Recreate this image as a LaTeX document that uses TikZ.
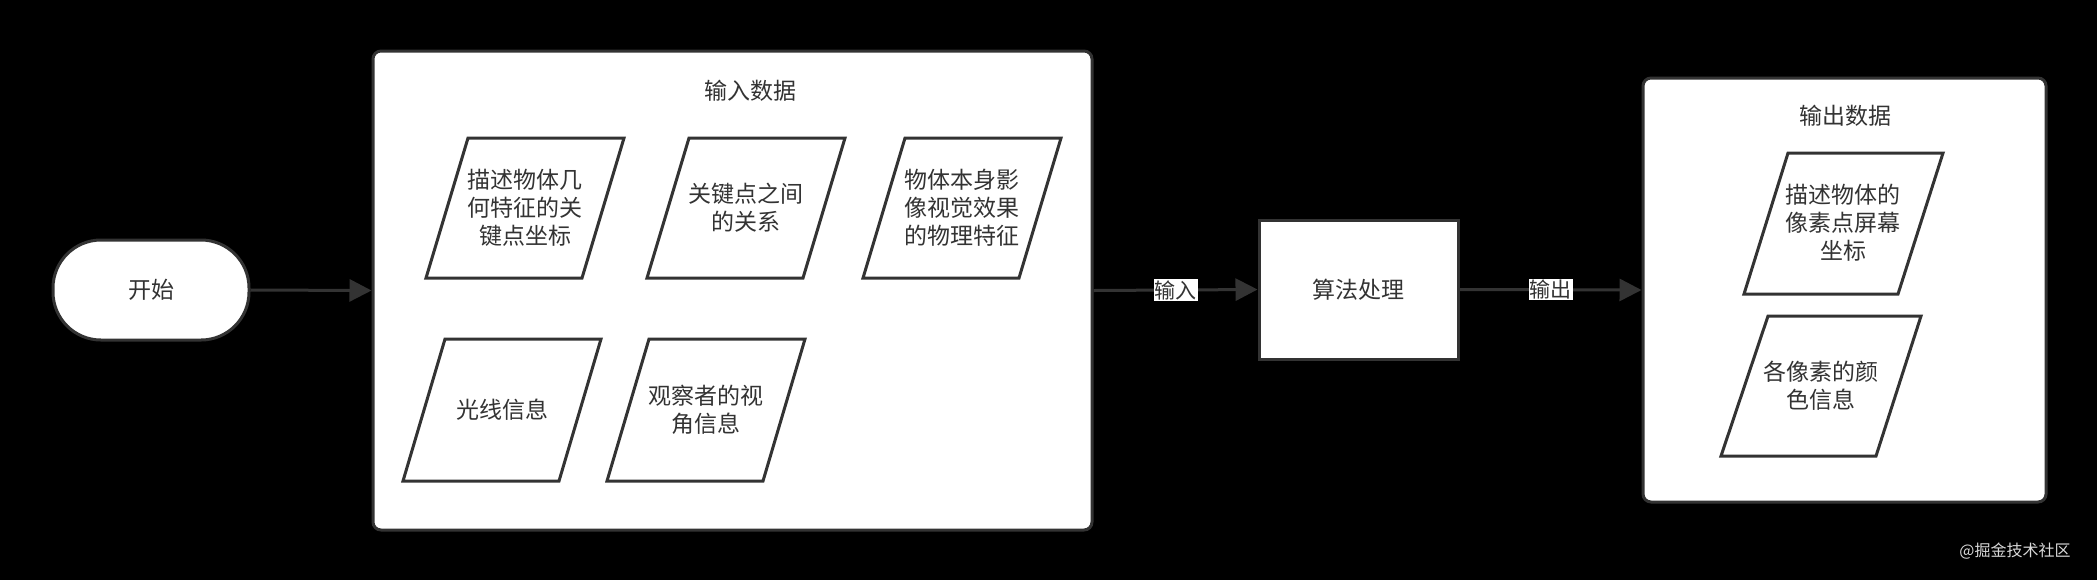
\documentclass[tikz,border=0pt]{standalone}
\usepackage{fontspec}
\setmainfont{Noto Sans CJK SC}
\usetikzlibrary{arrows.meta}
\definecolor{ln}{HTML}{333333}
\begin{document}
\begin{tikzpicture}[x=0.5pt,y=-0.5pt,
  ln/.style={draw=ln,line width=1.5pt},
  box/.style={ln,fill=white},
  txt/.style={text=ln,font=\fontsize{11.5pt}{14pt}\selectfont,align=center,inner sep=0pt},
  arr/.style={ln,-{Triangle[length=11pt,width=11pt]}},
  lab/.style={fill=white,text=ln,font=\fontsize{10.5pt}{12pt}\selectfont,inner sep=0.5pt}]
\fill[black] (0,0) rectangle (2097,580);
\useasboundingbox (0,0) rectangle (2097,580);
% start
\node[box,rounded corners=24pt,minimum width=98pt,minimum height=50pt,txt] (start) at (151,290) {开始};
% input container
\node[box,rounded corners=4pt,minimum width=359.5pt,minimum height=239.5pt,inner sep=0pt] (inbox) at (732.5,290.5) {};
\node[txt] (intitle) at (750,91) {输入数据};
% parallelograms
\newcommand{\para}[7]{%
  \draw[box,line join=miter] (#1,#2) -- (#1+156,#2) -- (#1+156-42,#3) -- (#1-42,#3) -- cycle;
  \node[txt] (#4) at (#1+57,{(#2+#3)/2}) {#5};}
\para{468}{138}{278}{p1}{描述物体几\\何特征的关\\键点坐标}{}{}
\para{689}{138}{278}{p2}{关键点之间\\的关系}{}{}
\para{905}{138}{278}{p3}{物体本身影\\像视觉效果\\的物理特征}{}{}
\para{445}{339}{481}{p4}{光线信息}{}{}
\para{649}{339}{481}{p5}{观察者的视\\角信息}{}{}
% algorithm
\node[box,minimum width=99.5pt,minimum height=69.5pt,txt] (algo) at (1358.5,289.5) {算法处理};
% output container
\node[box,rounded corners=4pt,minimum width=201.5pt,minimum height=212pt,inner sep=0pt] (outbox) at (1844.5,290) {};
\node[txt] (outtitle) at (1845,116) {输出数据};
\draw[box,line join=miter] (1788,153) -- (1943,153) -- (1898,294) -- (1744,294) -- cycle;
\node[txt] (q1) at (1843,223) {描述物体的\\像素点屏幕\\坐标};
\draw[box,line join=miter] (1768,316) -- (1921,316) -- (1876,456) -- (1721,456) -- cycle;
\node[txt] (q2) at (1821,386) {各像素的颜\\色信息};
% connectors
\draw[arr] (start.east) -- (inbox.west);
\draw[arr] (inbox.east) -- node[lab,pos=0.5] {输入} (algo.west);
\draw[arr] (algo.east) -- node[lab,pos=0.5] {输出} (outbox.west);
\node[text=white!85!black,font=\fontsize{8pt}{10pt}\selectfont] (wm) at (2015,551) {@掘金技术社区};
\end{tikzpicture}
\end{document}
